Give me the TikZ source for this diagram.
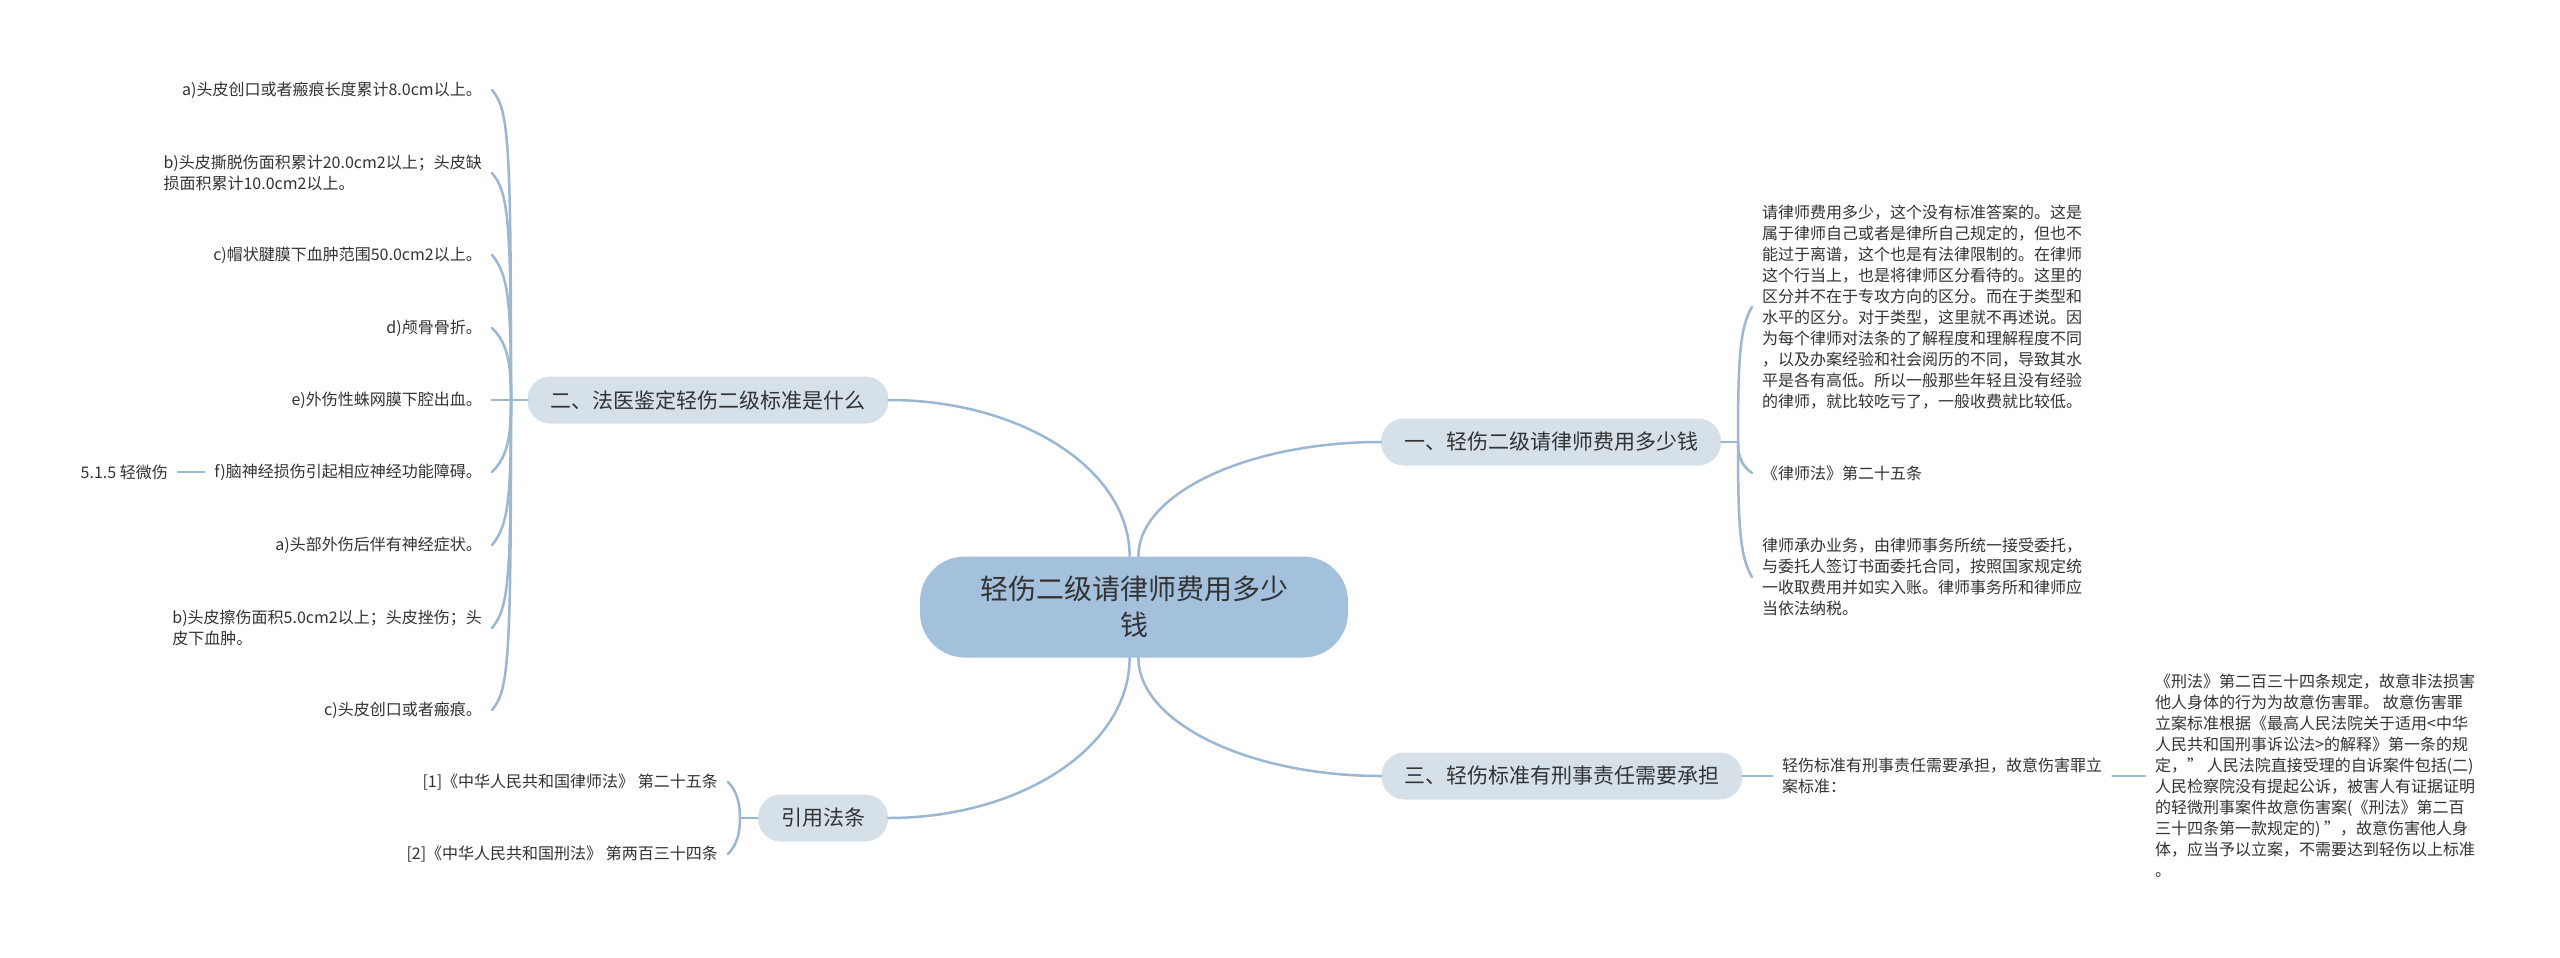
\documentclass[tikz,border=0pt]{standalone}
\usepackage{fontspec}
\setmainfont{Noto Sans CJK SC}
\usetikzlibrary{calc}

\definecolor{linkblue}{HTML}{9BB7D4}
\definecolor{rootblue}{HTML}{A3C0DD}
\definecolor{topicgray}{HTML}{D5E0E9}
\definecolor{inkgray}{HTML}{333333}

\begin{document}
\begin{tikzpicture}[
    x=1pt, y=-1pt,
    every node/.style={text=inkgray},
    link/.style={draw=linkblue, line width=2.5pt, line cap=round},
    rootbox/.style={fill=rootblue, rounded corners=45pt, minimum width=428pt, minimum height=101pt, align=center, font=\fontsize{28}{36}\selectfont},
    topic/.style={fill=topicgray, rounded corners=23pt, minimum height=47pt, inner xsep=23pt, font=\fontsize{21}{25}\selectfont},
    leaf/.style={inner xsep=10pt, inner ysep=2pt, align=left, font=\fontsize{16}{21}\selectfont}
]
    \fill[white, use as bounding box] (0,0) rectangle (2560,958);

    \node[rootbox] (root) at (1134,607) {轻伤二级请律师费用多少\\钱};

    \node[topic] (b1) at (1551,442) {一、轻伤二级请律师费用多少钱};
    \node[topic] (b2) at (708,400) {二、法医鉴定轻伤二级标准是什么};
    \node[topic] (b3) at (1562,776) {三、轻伤标准有刑事责任需要承担};
    \node[topic] (b4) at (823,818) {引用法条};

    \node[leaf, anchor=east] (l1) at (492,90) {a)头皮创口或者瘢痕长度累计8.0cm以上。};
    \node[leaf, anchor=east] (l2) at (492,173) {b)头皮撕脱伤面积累计20.0cm2以上；头皮缺\\损面积累计10.0cm2以上。};
    \node[leaf, anchor=east] (l3) at (492,255) {c)帽状腱膜下血肿范围50.0cm2以上。};
    \node[leaf, anchor=east] (l4) at (492,328) {d)颅骨骨折。};
    \node[leaf, anchor=east] (l5) at (492,400) {e)外伤性蛛网膜下腔出血。};
    \node[leaf, anchor=east] (l6) at (492,472) {f)脑神经损伤引起相应神经功能障碍。};
    \node[leaf, anchor=east] (l6a) at (178,472) {5.1.5 轻微伤};
    \node[leaf, anchor=east] (l7) at (492,545) {a)头部外伤后伴有神经症状。};
    \node[leaf, anchor=east] (l8) at (492,628) {b)头皮擦伤面积5.0cm2以上；头皮挫伤；头\\皮下血肿。};
    \node[leaf, anchor=east] (l9) at (492,710) {c)头皮创口或者瘢痕。};

    \node[leaf, anchor=west] (r1) at (1752,307) {请律师费用多少，这个没有标准答案的。这是\\
        属于律师自己或者是律所自己规定的，但也不\\
        能过于离谱，这个也是有法律限制的。在律师\\
        这个行当上，也是将律师区分看待的。这里的\\
        区分并不在于专攻方向的区分。而在于类型和\\
        水平的区分。对于类型，这里就不再述说。因\\
        为每个律师对法条的了解程度和理解程度不同\\
        ，以及办案经验和社会阅历的不同，导致其水\\
        平是各有高低。所以一般那些年轻且没有经验\\
        的律师，就比较吃亏了，一般收费就比较低。};
    \node[leaf, anchor=west] (r2) at (1752,473) {《律师法》第二十五条};
    \node[leaf, anchor=west] (r3) at (1752,577) {律师承办业务，由律师事务所统一接受委托，\\
        与委托人签订书面委托合同，按照国家规定统\\
        一收取费用并如实入账。律师事务所和律师应\\
        当依法纳税。};

    \node[leaf, anchor=west] (m1) at (1772,776) {轻伤标准有刑事责任需要承担，故意伤害罪立\\案标准：};
    \node[leaf, anchor=west] (p1) at (2145,776) {《刑法》第二百三十四条规定，故意非法损害\\
        他人身体的行为为故意伤害罪。 故意伤害罪\\
        立案标准根据《最高人民法院关于适用<中华\\
        人民共和国刑事诉讼法>的解释》第一条的规\\
        定，” 人民法院直接受理的自诉案件包括(二)\\
        人民检察院没有提起公诉，被害人有证据证明\\
        的轻微刑事案件故意伤害案(《刑法》第二百\\
        三十四条第一款规定的) ”，故意伤害他人身\\
        体，应当予以立案，不需要达到轻伤以上标准\\
        。};

    \node[leaf, anchor=east] (c1) at (728,782) {[1]《中华人民共和国律师法》 第二十五条};
    \node[leaf, anchor=east] (c2) at (728,854) {[2]《中华人民共和国刑法》 第两百三十四条};

    \coordinate (j1) at (1738,442);
    \coordinate (j2) at (511,400);
    \coordinate (j4) at (740,818);

    \draw[link] (root.95) .. controls (1130,470) and (1022,400) .. (b2.east);
    \draw[link] (root.85) .. controls (1138,494) and (1247,442) .. (b1.west);
    \draw[link] (root.275) .. controls (1138,722) and (1248,776) .. (b3.west);
    \draw[link] (root.265) .. controls (1130,746) and (1022,818) .. (b4.east);

    \draw[link] (b2.west) -- (l5.east);
    \foreach \n/\d/\e in {l1/50/20, l2/50/20, l3/50/20, l4/40/16, l6/-40/-16, l7/-50/-20, l8/-50/-20, l9/-50/-20}
        \draw[link] (j2) .. controls ($(j2|-\n.east)+(0,\d)$) and ($(j2|-\n.east)+(-2,\e)$) .. (\n.east);
    \draw[link] (l6.west) -- (l6a.east);

    \draw[link] (b1.east) -- (j1);
    \foreach \n/\d/\e in {r1/50/20, r2/-20/-8, r3/-50/-20}
        \draw[link] (j1) .. controls ($(j1|-\n.west)+(0,\d)$) and ($(j1|-\n.west)+(2,\e)$) .. (\n.west);

    \draw[link] (b3.east) -- (m1.west);
    \draw[link] (m1.east) -- (p1.west);

    \draw[link] (b4.west) -- (j4);
    \foreach \n/\d/\e in {c1/24/10, c2/-24/-10}
        \draw[link] (j4) .. controls ($(j4|-\n.east)+(0,\d)$) and ($(j4|-\n.east)+(-2,\e)$) .. (\n.east);
\end{tikzpicture}
\end{document}
